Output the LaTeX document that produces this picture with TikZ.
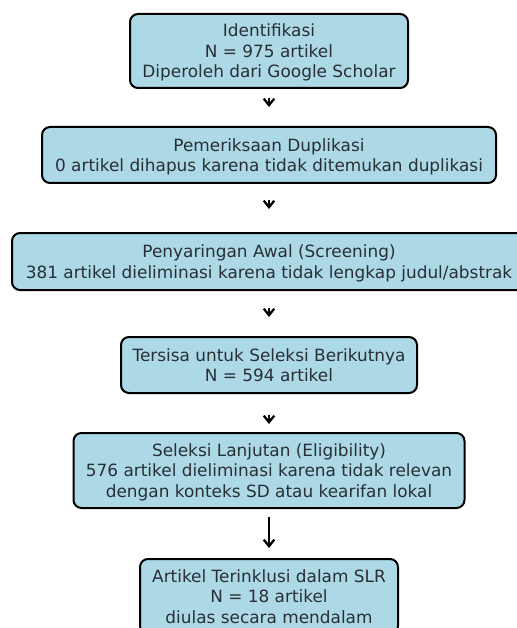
\documentclass[tikz,border=0pt]{standalone}
\usepackage{fontspec}
\setmainfont{DejaVu Sans}
\usetikzlibrary{arrows.meta}

\definecolor{boxblue}{HTML}{ADD8E6}
\definecolor{boxtext}{RGB}{40,48,54}

\begin{document}
\begin{tikzpicture}[x=1pt,y=-1pt,
    stage/.style={draw=black, line width=2pt, fill=boxblue, rounded corners=8pt,
      text=boxtext, align=center, inner sep=0pt, text depth=0pt,
      font=\fontsize{16.9}{20.5}\selectfont},
    flow/.style={-{Straight Barb[length=6.5pt,width=10.5pt,line width=2.3pt]}, line width=2pt}]

          \useasboundingbox (0,0) rectangle (516,628);

          \node[stage, minimum width=278pt, minimum height=74pt] (ident) at (269,51)
            {Identifikasi\\N = 975 artikel\\Diperoleh dari Google Scholar};
          \node[stage, minimum width=454pt, minimum height=56pt] (dupl) at (269,155)
            {Pemeriksaan Duplikasi\\0 artikel dihapus karena tidak ditemukan duplikasi};
          \node[stage, minimum width=514pt, minimum height=57pt] (screen) at (269,261.5)
            {Penyaringan Awal (Screening)\\381 artikel dieliminasi karena tidak lengkap judul/abstrak};
          \node[stage, minimum width=296pt, minimum height=56pt] (sisa) at (269,365)
            {Tersisa untuk Seleksi Berikutnya\\N = 594 artikel};
          \node[stage, minimum width=391pt, minimum height=75pt] (elig) at (269,470.5)
            {Seleksi Lanjutan (Eligibility)\\576 artikel dieliminasi karena tidak relevan\\dengan konteks SD atau kearifan lokal};
          \node[stage, minimum width=258pt, minimum height=75pt] (incl) at (269,596.5)
            {Artikel Terinklusi dalam SLR\\N = 18 artikel\\diulas secara mendalam};

          % short arrows between the stages
          \draw[flow, shorten <=9pt, shorten >=19pt] (ident) -- (dupl);
          \draw[flow, shorten <=16pt, shorten >=23pt] (dupl) -- (screen);
          \draw[flow, shorten <=17pt, shorten >=19pt] (screen) -- (sisa);
          \draw[flow, shorten <=21pt, shorten >=8pt] (sisa) -- (elig);
          \draw[flow, shorten <=8pt, shorten >=10pt] (elig) -- (incl);

        \end{tikzpicture}
\end{document}
